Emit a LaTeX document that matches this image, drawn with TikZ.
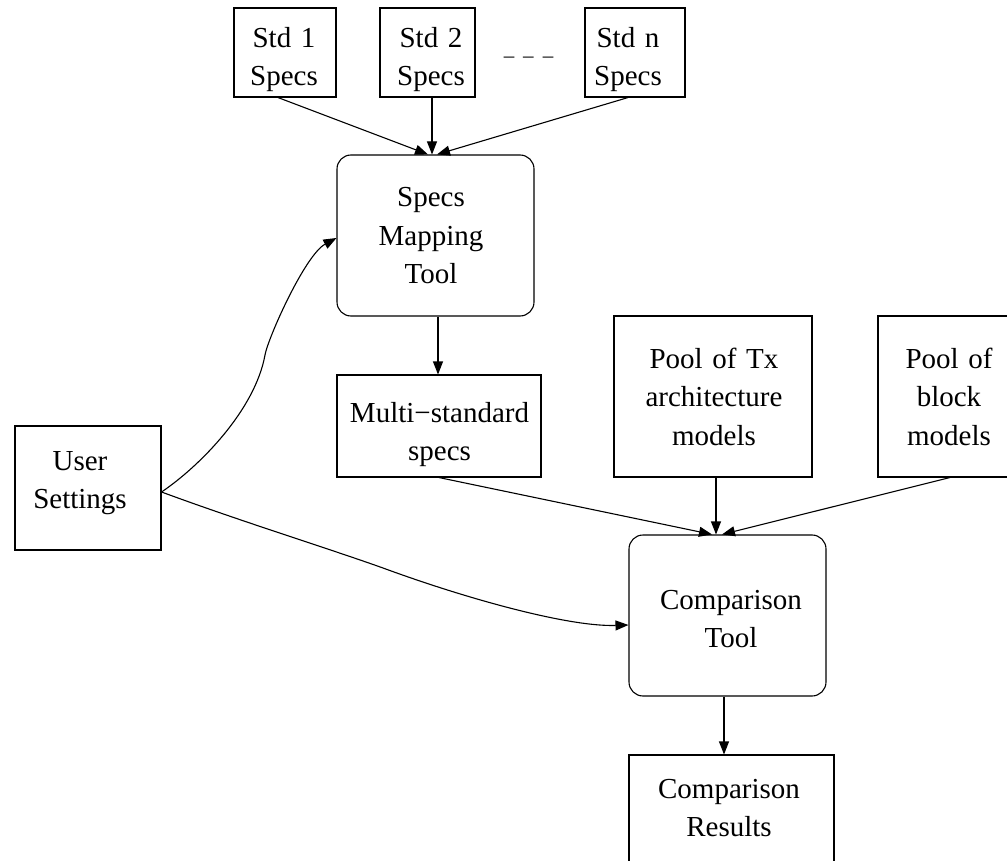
\documentclass[tikz,border=0pt]{standalone}
\usepackage{fontspec}
\setmainfont{Liberation Serif}
\usetikzlibrary{arrows.meta}
\begin{document}
\begin{tikzpicture}[x=1pt,y=-1pt,
  plainbox/.style={draw=black, line width=1.1pt, inner sep=0pt, rectangle},
  roundbox/.style={plainbox, rounded corners=14pt},
  lbl/.style={font=\fontsize{29}{38.5}\selectfont, align=center, text width=240pt, inner sep=0pt, anchor=base},
  conn/.style={line width=1.1pt, -{Triangle[length=13pt,width=10pt]}}]
\useasboundingbox (0,0) rectangle (1007,861);
\clip (0,0) rectangle (1007,861);
% boxes
\node[plainbox, minimum width=102pt, minimum height=89pt] (s1) at (285,52.5) {};
\node[plainbox, minimum width=95pt, minimum height=89pt] (s2) at (427.5,52.5) {};
\node[plainbox, minimum width=100pt, minimum height=89pt] (sn) at (635,52.5) {};
\node[roundbox, minimum width=197pt, minimum height=161pt] (smt) at (435.5,235.5) {};
\node[plainbox, minimum width=204pt, minimum height=102pt] (ms) at (439,426) {};
\node[plainbox, minimum width=146pt, minimum height=124pt] (us) at (88,488) {};
\node[plainbox, minimum width=198pt, minimum height=161pt] (ptx) at (713,396.5) {};
\node[plainbox, minimum width=142pt, minimum height=161pt] (pbm) at (949,396.5) {};
\node[roundbox, minimum width=197pt, minimum height=161pt] (ct) at (727.5,615.5) {};
\node[plainbox, minimum width=205pt, minimum height=140pt] (cr) at (731.5,825) {};
% labels
\node[lbl] (s1t) at (284,47.5) {Std 1\\Specs};
\node[lbl] (s2t) at (431,47.5) {Std 2\\Specs};
\node[lbl] (snt) at (628,47.5) {Std n\\Specs};
\node[font=\fontsize{21}{24}\selectfont, inner sep=0pt, anchor=base] (dots) at (528.5,63) {–\hspace{9pt}–\hspace{9pt}–};
\node[lbl] (smtt) at (431,207) {Specs\\Mapping\\Tool};
\node[lbl] (mst) at (439.5,422) {Multi−standard\\specs};
\node[lbl] (ust) at (80,470) {User\\Settings};
\node[lbl] (ptxt) at (714,368) {Pool of Tx\\architecture\\models};
\node[lbl] (pbmt) at (949,368) {Pool of\\block\\models};
\node[lbl] (ctt) at (731,609) {Comparison\\Tool};
\node[lbl] (crt) at (729,798) {Comparison\\Results};
% connectors
\draw[conn] ([xshift=-7pt]s1.south) -- ([xshift=-7.5pt]smt.north);
\draw[conn] ([xshift=4.5pt]s2.south) -- ([xshift=-3.5pt]smt.north);
\draw[conn] ([xshift=-7pt]sn.south) -- ([xshift=1.5pt]smt.north);
\draw[conn] ([xshift=2.5pt]smt.south) -- ([xshift=-1pt]ms.north);
\draw[conn] (ms.south) -- ([xshift=-15.5pt]ct.north);
\draw[conn] ([xshift=3pt]ptx.south) -- ([xshift=-11.5pt]ct.north);
\draw[conn] ([xshift=1pt]pbm.south) -- ([xshift=-5.5pt]ct.north);
\draw[conn] ([xshift=-3.5pt]ct.south) -- ([xshift=-7.5pt]cr.north);
\draw[conn] ([yshift=-4pt]us.east) .. controls (200,466) and (255,410) .. (265,355)
  .. controls (268,338) and (305,255) .. ([yshift=-2.5pt]smt.west);
\draw[conn] ([yshift=-4pt]us.east) .. controls (240,521) and (330,549) .. (383,568)
  .. controls (470,600) and (570,627) .. ([yshift=-9.5pt]ct.west);
\end{tikzpicture}
\end{document}
